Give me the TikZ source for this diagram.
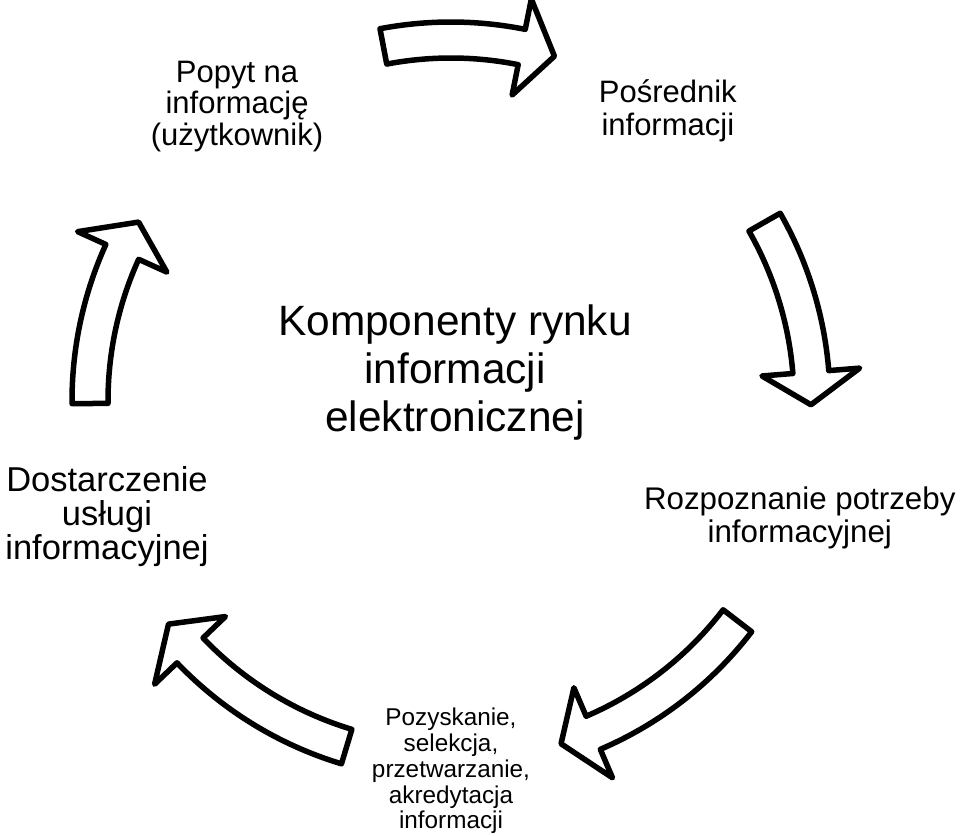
\documentclass[tikz,border=0pt]{standalone}
\usepackage{fontspec}
\setmainfont{Liberation Sans}
\usepackage{tikz}
\usetikzlibrary{calc}

\begin{document}
\begin{tikzpicture}[x=1pt, y=1pt,
    cyclearrow/.style={draw=black, line width=5.5pt, line join=round, fill=white},
    stagetext/.style={align=center, inner sep=0pt}]
    \useasboundingbox (-451,-434) rectangle (509,401);

    % Block arrows round the cycle
    \foreach \tail/\base/\tip in {100.8/78.7/73.3, 29.7/4.6/-0.6, -37.5/-66.8/-72.2,
                                  -106.8/-136.3/-141.7, 180.4/155.6/150.2}
        \draw [cyclearrow] (\tail:379) arc [start angle=\tail, end angle=\base, radius=379]
            -- (\base:410) -- (\tip:360) -- (\base:312) -- (\base:343)
            arc [start angle=\base, end angle=\tail, radius=343] -- cycle;

    % Stages
    \node [stagetext, font=\fontsize{42.4}{48}\selectfont] (komponenty) at (4,28)
        {Komponenty rynku\\informacji\\elektronicznej};
    \node [stagetext, font=\fontsize{31}{31.5}\selectfont] (popyt) at (126:364)
        {Popyt na\\informację\\(użytkownik)};
    \node [stagetext, font=\fontsize{31}{33}\selectfont] (posrednik) at (53.2:362)
        {Pośrednik\\informacji};
    \node [stagetext, font=\fontsize{31.3}{33}\selectfont] (rozpoznanie) at (-18.6:368)
        {Rozpoznanie potrzeby\\informacyjnej};
    \node [stagetext, font=\fontsize{24.3}{25.8}\selectfont] (pozyskanie) at (-90:370)
        {Pozyskanie,\\selekcja,\\przetwarzanie,\\akredytacja\\informacji};
    \node [stagetext, font=\fontsize{34.5}{34}\selectfont] (dostarczenie) at (198.6:363)
        {Dostarczenie\\usługi\\informacyjnej};
\end{tikzpicture}
\end{document}
